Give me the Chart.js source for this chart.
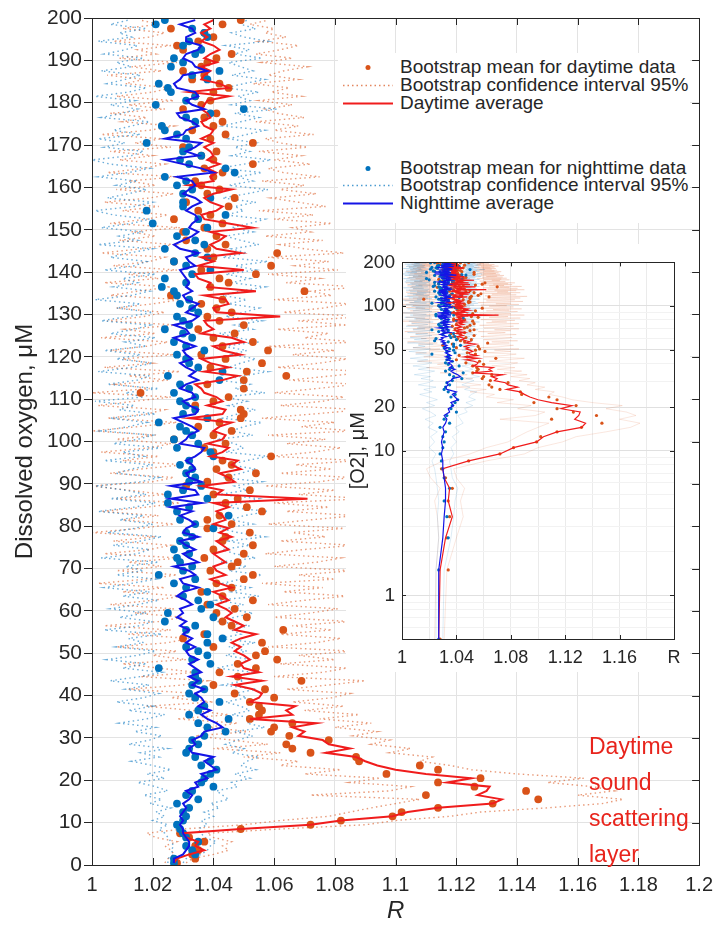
<!DOCTYPE html>
<html>
<head>
<meta charset="utf-8">
<script src="https://cdn.jsdelivr.net/npm/chart.js@4.4.0/dist/chart.umd.min.js"></script>
<style>
  body { margin: 0; background: #fff; }
  #wrap { position: relative; width: 721px; height: 933px; font-family: 'Liberation Sans', Arial, sans-serif; color: #262626; overflow: hidden; }
  #main { position: absolute; left: 0; top: 0; }
  #legend { position: absolute; left: 338px; top: 53px; width: 352px; height: 170px; background: #fff; font-size: 19px; }
  .row { position: absolute; left: 0; width: 352px; height: 18px; line-height: 18px; white-space: nowrap; }
  .row .txt { position: absolute; left: 62px; top: 0; }
  .row svg { position: absolute; left: 5px; top: 7px; }
  #insetBox { position: absolute; left: 346px; top: 244px; width: 344px; height: 428px; background: #fff; }
  #note { position: absolute; left: 589px; top: 728px; font-size: 23px; line-height: 36px; color: #e8241c; }
</style>
</head>
<body>
<div id="wrap">
  <canvas id="main" width="721" height="933"></canvas>
  <div id="legend">
    <div class="row" style="top:5px"><svg width="50" height="5"><circle cx="25" cy="2.5" r="2.5" fill="#D95319"/></svg><span class="txt">Bootstrap mean for daytime data</span></div>
    <div class="row" style="top:23px"><svg width="50" height="5"><line x1="0" y1="2.5" x2="50" y2="2.5" stroke="rgba(217,83,25,0.7)" stroke-width="1.4" stroke-dasharray="1.5 3"/></svg><span class="txt">Bootstrap confidence interval 95%</span></div>
    <div class="row" style="top:41px"><svg width="50" height="5"><line x1="0" y1="2.5" x2="50" y2="2.5" stroke="#f01c1c" stroke-width="2"/></svg><span class="txt">Daytime average</span></div>
    <div class="row" style="top:106px"><svg width="50" height="5"><circle cx="25" cy="2.5" r="2.5" fill="#0072BD"/></svg><span class="txt">Bootstrap mean for nighttime data</span></div>
    <div class="row" style="top:123px"><svg width="50" height="5"><line x1="0" y1="2.5" x2="50" y2="2.5" stroke="rgba(0,114,189,0.7)" stroke-width="1.4" stroke-dasharray="1.5 3"/></svg><span class="txt">Bootstrap confidence interval 95%</span></div>
    <div class="row" style="top:141px"><svg width="50" height="5"><line x1="0" y1="2.5" x2="50" y2="2.5" stroke="#1414e6" stroke-width="2"/></svg><span class="txt">Nighttime average</span></div>
  </div>
  <div id="note">Daytime<br>sound<br>scattering<br>layer</div>
  <div id="insetBox"><canvas id="inset" width="344" height="428"></canvas></div>
</div>
<script>
// O2 bins (bin centres, µM)
const levels = [
  0.5,1.5,2.5,3.5,4.5,5.5,6.5,7.5,8.5,9.5,
  10.5,11.5,12.5,13.5,14.5,15.5,16.5,17.5,18.5,19.5,
  20.5,21.5,22.5,23.5,24.5,25.5,26.5,27.5,28.5,29.5,
  30.5,31.5,32.5,33.5,34.5,35.5,36.5,37.5,38.5,39.5,
  40.5,41.5,42.5,43.5,44.5,45.5,46.5,47.5,48.5,49.5,
  50.5,51.5,52.5,53.5,54.5,55.5,56.5,57.5,58.5,59.5,
  60.5,61.5,62.5,63.5,64.5,65.5,66.5,67.5,68.5,69.5,
  70.5,71.5,72.5,73.5,74.5,75.5,76.5,77.5,78.5,79.5,
  80.5,81.5,82.5,83.5,84.5,85.5,86.5,87.5,88.5,89.5,
  90.5,91.5,92.5,93.5,94.5,95.5,96.5,97.5,98.5,99.5,
  100.5,101.5,102.5,103.5,104.5,105.5,106.5,107.5,108.5,109.5,
  110.5,111.5,112.5,113.5,114.5,115.5,116.5,117.5,118.5,119.5,
  120.5,121.5,122.5,123.5,124.5,125.5,126.5,127.5,128.5,129.5,
  130.5,131.5,132.5,133.5,134.5,135.5,136.5,137.5,138.5,139.5,
  140.5,141.5,142.5,143.5,144.5,145.5,146.5,147.5,148.5,149.5,
  150.5,151.5,152.5,153.5,154.5,155.5,156.5,157.5,158.5,159.5,
  160.5,161.5,162.5,163.5,164.5,165.5,166.5,167.5,168.5,169.5,
  170.5,171.5,172.5,173.5,174.5,175.5,176.5,177.5,178.5,179.5,
  180.5,181.5,182.5,183.5,184.5,185.5,186.5,187.5,188.5,189.5,
  190.5,191.5,192.5,193.5,194.5,195.5,196.5,197.5,198.5,199.5
];

// daytime average R
const dayAvg = [
  1.027,1.028,1.032,1.037,1.034,1.035,1.031,1.030,1.049,1.072,
  1.082,1.099,1.104,1.114,1.132,1.135,1.127,1.130,1.131,1.117,
  1.125,1.110,1.100,1.094,1.090,1.087,1.077,1.085,1.078,1.076,
  1.068,1.070,1.066,1.074,1.052,1.066,1.064,1.067,1.052,1.055,
  1.056,1.053,1.047,1.056,1.046,1.055,1.050,1.049,1.052,1.050,
  1.047,1.049,1.046,1.049,1.054,1.047,1.050,1.047,1.044,1.046,
  1.044,1.041,1.045,1.043,1.040,1.046,1.042,1.039,1.044,1.041,
  1.040,1.044,1.042,1.040,1.045,1.043,1.041,1.046,1.042,1.045,
  1.040,1.044,1.043,1.041,1.045,1.040,1.071,1.041,1.043,1.036,
  1.047,1.045,1.042,1.049,1.046,1.048,1.039,1.043,1.045,1.038,
  1.043,1.044,1.040,1.042,1.046,1.032,1.043,1.044,1.038,1.043,
  1.041,1.037,1.036,1.034,1.043,1.048,1.037,1.045,1.039,1.036,
  1.049,1.043,1.040,1.050,1.046,1.036,1.040,1.038,1.037,1.062,
  1.041,1.040,1.045,1.044,1.037,1.054,1.038,1.039,1.035,1.034,
  1.050,1.035,1.040,1.036,1.049,1.041,1.039,1.042,1.044,1.039,
  1.053,1.045,1.037,1.036,1.041,1.043,1.039,1.037,1.040,1.046,
  1.032,1.040,1.039,1.041,1.038,1.042,1.038,1.040,1.039,1.037,
  1.040,1.036,1.039,1.040,1.037,1.036,1.039,1.038,1.036,1.037,
  1.038,1.045,1.032,1.045,1.042,1.036,1.037,1.039,1.036,1.041,
  1.037,1.039,1.042,1.040,1.036,1.038,1.036,1.039,1.037,1.040
];

// nighttime average R
const nightAvg = [
  1.027,1.027,1.030,1.031,1.032,1.032,1.031,1.030,1.030,1.029,
  1.030,1.029,1.030,1.031,1.030,1.032,1.033,1.031,1.035,1.034,
  1.038,1.036,1.041,1.039,1.037,1.040,1.033,1.032,1.034,1.033,
  1.036,1.037,1.043,1.041,1.038,1.036,1.039,1.035,1.037,1.036,
  1.034,1.037,1.033,1.035,1.032,1.036,1.034,1.032,1.035,1.032,
  1.031,1.034,1.031,1.033,1.030,1.032,1.029,1.031,1.028,1.030,
  1.029,1.033,1.031,1.028,1.030,1.035,1.030,1.029,1.034,1.032,
  1.027,1.035,1.032,1.030,1.034,1.031,1.029,1.035,1.030,1.031,
  1.034,1.032,1.029,1.033,1.026,1.036,1.026,1.035,1.034,1.026,
  1.036,1.032,1.031,1.034,1.033,1.031,1.034,1.036,1.037,1.029,
  1.031,1.032,1.035,1.033,1.030,1.027,1.034,1.035,1.032,1.030,
  1.034,1.033,1.029,1.031,1.035,1.032,1.034,1.031,1.029,1.033,
  1.031,1.030,1.034,1.030,1.027,1.032,1.031,1.027,1.033,1.035,
  1.031,1.033,1.035,1.031,1.030,1.033,1.031,1.032,1.031,1.030,
  1.029,1.034,1.032,1.031,1.035,1.029,1.027,1.030,1.033,1.035,
  1.032,1.033,1.035,1.034,1.031,1.033,1.036,1.034,1.030,1.032,
  1.034,1.033,1.028,1.040,1.036,1.030,1.024,1.035,1.031,1.034,
  1.036,1.024,1.030,1.031,1.035,1.033,1.029,1.028,1.037,1.033,
  1.031,1.035,1.034,1.028,1.027,1.029,1.030,1.038,1.034,1.033,
  1.030,1.031,1.035,1.036,1.031,1.031,1.034,1.033,1.029,1.034
];

// bootstrap mean, daytime
const dayMean = [
  1.028,1.034,1.033,1.035,1.034,1.037,1.032,1.029,1.049,1.072,
  1.082,1.099,1.102,1.114,1.132,1.147,1.110,1.143,1.126,1.114,
  1.128,1.097,1.114,1.108,1.088,1.087,1.072,1.066,1.064,1.078,
  1.065,1.059,1.060,1.066,1.052,1.055,1.056,1.055,1.052,1.060,
  1.047,1.057,1.040,1.069,1.048,1.042,1.054,1.048,1.061,1.054,
  1.057,1.040,1.056,1.030,1.037,1.063,1.046,1.043,1.051,1.041,
  1.047,1.038,1.053,1.043,1.036,1.046,1.041,1.050,1.053,1.039,
  1.046,1.048,1.037,1.050,1.040,1.053,1.043,1.044,1.052,1.038,
  1.046,1.038,1.042,1.056,1.051,1.044,1.048,1.040,1.052,1.031,
  1.038,1.045,1.054,1.041,1.046,1.043,1.059,1.040,1.037,1.044,
  1.027,1.040,1.046,1.035,1.042,1.049,1.050,1.049,1.034,1.040,
  1.045,1.016,1.050,1.038,1.050,1.064,1.051,1.039,1.056,1.044,
  1.036,1.058,1.043,1.053,1.040,1.047,1.035,1.050,1.042,1.038,
  1.046,1.041,1.036,1.043,1.026,1.070,1.039,1.045,1.042,1.054,
  1.036,1.059,1.027,1.040,1.061,1.038,1.044,1.031,1.041,1.030,
  1.037,1.043,1.027,1.039,1.035,1.045,1.031,1.047,1.038,1.042,
  1.036,1.034,1.040,1.043,1.037,1.053,1.040,1.036,1.041,1.030,
  1.053,1.039,1.044,1.033,1.040,1.043,1.037,1.041,1.030,1.036,
  1.039,1.034,1.040,1.045,1.042,1.033,1.037,1.030,1.036,1.038,
  1.041,1.046,1.030,1.028,1.035,1.040,1.037,1.026,1.043,1.049
];

// bootstrap mean, nighttime
const nightMean = [
  1.027,1.027,1.034,1.033,1.031,1.035,1.031,1.030,1.029,1.028,
  1.030,1.031,1.030,1.032,1.028,1.035,1.031,1.033,1.040,1.036,
  1.037,1.039,1.041,1.036,1.039,1.034,1.031,1.032,1.035,1.033,
  1.037,1.044,1.038,1.035,1.045,1.032,1.035,1.037,1.042,1.034,
  1.032,1.037,1.033,1.035,1.034,1.034,1.022,1.039,1.033,1.038,
  1.035,1.031,1.038,1.043,1.038,1.031,1.034,1.024,1.040,1.025,
  1.036,1.039,1.035,1.030,1.038,1.031,1.027,1.034,1.022,1.030,
  1.033,1.029,1.028,1.032,1.027,1.031,1.029,1.033,1.031,1.040,
  1.034,1.029,1.045,1.028,1.032,1.025,1.038,1.025,1.030,1.036,
  1.032,1.034,1.031,1.033,1.029,1.032,1.040,1.039,1.028,1.035,
  1.027,1.033,1.031,1.029,1.022,1.038,1.030,1.034,1.031,1.029,
  1.034,1.027,1.032,1.029,1.042,1.025,1.043,1.035,1.032,1.031,
  1.028,1.037,1.031,1.027,1.033,1.030,1.024,1.032,1.030,1.028,
  1.035,1.033,1.029,1.032,1.028,1.027,1.023,1.031,1.024,1.033,
  1.039,1.031,1.027,1.038,1.034,1.024,1.037,1.034,1.028,1.031,
  1.038,1.020,1.035,1.044,1.018,1.030,1.030,1.039,1.030,1.033,
  1.028,1.031,1.024,1.047,1.044,1.032,1.029,1.036,1.030,1.032,
  1.018,1.031,1.028,1.024,1.023,1.034,1.031,1.039,1.050,1.021,
  1.031,1.034,1.026,1.025,1.022,1.038,1.033,1.042,1.026,1.030,
  1.027,1.034,1.036,1.030,1.032,1.038,1.037,1.033,1.021,1.024
];

// 95% bootstrap confidence bounds, daytime
const dayCiLo = [
  1.024,1.025,1.027,1.026,1.024,1.028,1.021,1.018,1.030,1.050,
  1.062,1.078,1.085,1.092,1.100,1.108,1.072,1.098,1.105,1.085,
  1.095,1.070,1.082,1.062,1.068,1.050,1.062,1.040,1.058,1.046,
  1.034,1.052,1.038,1.048,1.028,1.045,1.033,1.018,1.040,1.026,
  1.035,1.012,1.030,1.038,1.016,1.034,1.022,1.010,1.031,1.020,
  1.028,1.008,1.025,1.032,1.012,1.026,1.004,1.022,1.030,1.014,
  1.027,1.006,1.020,1.030,1.010,1.024,1.002,1.018,1.028,1.008,
  1.023,1.012,1.029,1.004,1.019,1.026,1.007,1.021,1.000,1.016,
  1.027,1.010,1.022,1.003,1.018,1.029,1.008,1.024,1.012,1.000,
  1.020,1.027,1.006,1.016,1.030,1.010,1.022,1.003,1.019,1.026,
  1.008,1.021,1.000,1.015,1.028,1.005,1.018,1.024,1.002,1.014,
  1.026,1.000,1.019,1.008,1.025,1.012,1.029,1.004,1.020,1.010,
  1.027,1.006,1.018,1.025,1.003,1.021,1.011,1.028,1.005,1.017,
  1.024,1.008,1.020,1.029,1.006,1.015,1.026,1.004,1.022,1.012,
  1.028,1.007,1.019,1.024,1.003,1.016,1.027,1.009,1.021,1.013,
  1.029,1.006,1.018,1.025,1.010,1.022,1.004,1.019,1.027,1.008,
  1.021,1.012,1.028,1.005,1.017,1.024,1.009,1.020,1.006,1.026,
  1.014,1.023,1.003,1.019,1.027,1.010,1.018,1.006,1.024,1.012,
  1.027,1.008,1.020,1.026,1.011,1.017,1.005,1.023,1.013,1.028,
  1.009,1.021,1.015,1.026,1.007,1.019,1.024,1.010,1.022,1.016
];
const dayCiHi = [
  1.031,1.033,1.040,1.045,1.043,1.046,1.040,1.038,1.062,1.090,
  1.100,1.118,1.128,1.150,1.168,1.175,1.160,1.172,1.165,1.150,
  1.162,1.140,1.125,1.118,1.108,1.112,1.098,1.105,1.092,1.098,
  1.086,1.094,1.080,1.092,1.075,1.088,1.070,1.083,1.066,1.079,
  1.085,1.064,1.078,1.090,1.060,1.076,1.084,1.062,1.080,1.068,
  1.086,1.058,1.074,1.082,1.062,1.079,1.066,1.085,1.060,1.072,
  1.081,1.058,1.070,1.084,1.063,1.076,1.056,1.080,1.068,1.086,
  1.060,1.074,1.082,1.057,1.070,1.086,1.062,1.077,1.066,1.083,
  1.058,1.072,1.087,1.064,1.078,1.060,1.090,1.068,1.080,1.057,
  1.075,1.085,1.062,1.079,1.067,1.088,1.059,1.073,1.082,1.064,
  1.077,1.058,1.086,1.069,1.080,1.056,1.073,1.089,1.062,1.076,
  1.083,1.060,1.074,1.087,1.065,1.079,1.092,1.061,1.075,1.084,
  1.066,1.080,1.058,1.087,1.070,1.078,1.061,1.084,1.068,1.090,
  1.063,1.076,1.085,1.060,1.079,1.072,1.088,1.064,1.075,1.058,
  1.081,1.067,1.078,1.058,1.083,1.070,1.062,1.076,1.057,1.072,
  1.066,1.079,1.060,1.073,1.055,1.077,1.068,1.059,1.074,1.062,
  1.070,1.056,1.075,1.063,1.058,1.072,1.060,1.069,1.055,1.071,
  1.062,1.057,1.073,1.060,1.068,1.054,1.070,1.061,1.057,1.066,
  1.055,1.069,1.059,1.065,1.053,1.068,1.058,1.063,1.071,1.056,
  1.066,1.054,1.062,1.068,1.055,1.064,1.057,1.060,1.052,1.058
];

// 95% bootstrap confidence bounds, nighttime
const nightCiLo = [
  1.025,1.025,1.027,1.026,1.027,1.026,1.025,1.024,1.022,1.025,
  1.020,1.024,1.021,1.026,1.019,1.023,1.017,1.025,1.021,1.015,
  1.024,1.018,1.026,1.020,1.013,1.022,1.016,1.025,1.012,1.019,
  1.023,1.014,1.021,1.009,1.018,1.024,1.012,1.020,1.008,1.017,
  1.022,1.011,1.019,1.006,1.016,1.023,1.010,1.018,1.005,1.015,
  1.021,1.008,1.017,1.012,1.023,1.004,1.016,1.020,1.009,1.018,
  1.006,1.015,1.022,1.010,1.019,1.004,1.013,1.021,1.008,1.017,
  1.011,1.022,1.003,1.015,1.019,1.007,1.016,1.023,1.005,1.014,
  1.020,1.009,1.017,1.002,1.014,1.021,1.006,1.018,1.011,1.001,
  1.016,1.022,1.008,1.013,1.020,1.004,1.017,1.010,1.023,1.007,
  1.015,1.020,1.003,1.012,1.018,1.006,1.021,1.009,1.014,1.001,
  1.017,1.011,1.022,1.005,1.015,1.019,1.002,1.013,1.020,1.008,
  1.016,1.004,1.018,1.011,1.021,1.006,1.014,1.019,1.003,1.012,
  1.020,1.008,1.016,1.001,1.013,1.019,1.007,1.015,1.010,1.021,
  1.004,1.014,1.018,1.006,1.012,1.020,1.002,1.015,1.009,1.017,
  1.003,1.013,1.019,1.007,1.001,1.014,1.020,1.005,1.012,1.018,
  1.008,1.015,1.002,1.012,1.019,1.006,1.000,1.013,1.017,1.004,
  1.011,1.002,1.016,1.007,1.013,1.019,1.003,1.010,1.015,1.006,
  1.014,1.001,1.012,1.018,1.005,1.011,1.016,1.003,1.013,1.008,
  1.017,1.004,1.011,1.015,1.002,1.013,1.009,1.018,1.006,1.012
];
const nightCiHi = [
  1.030,1.031,1.036,1.038,1.039,1.041,1.037,1.036,1.035,1.038,
  1.036,1.040,1.037,1.042,1.039,1.045,1.043,1.041,1.048,1.046,
  1.052,1.047,1.054,1.049,1.051,1.055,1.046,1.050,1.044,1.048,
  1.053,1.047,1.057,1.051,1.055,1.046,1.052,1.049,1.044,1.051,
  1.047,1.054,1.043,1.050,1.046,1.053,1.041,1.048,1.052,1.044,
  1.051,1.045,1.054,1.042,1.049,1.046,1.052,1.041,1.047,1.053,
  1.044,1.050,1.041,1.055,1.046,1.052,1.043,1.049,1.056,1.045,
  1.051,1.042,1.054,1.047,1.043,1.052,1.045,1.057,1.048,1.042,
  1.053,1.046,1.050,1.058,1.044,1.049,1.055,1.042,1.051,1.047,
  1.056,1.043,1.049,1.054,1.045,1.051,1.058,1.044,1.050,1.047,
  1.041,1.053,1.046,1.050,1.056,1.043,1.048,1.054,1.045,1.051,
  1.044,1.057,1.047,1.052,1.042,1.050,1.058,1.045,1.049,1.054,
  1.046,1.051,1.043,1.055,1.048,1.042,1.053,1.047,1.056,1.044,
  1.050,1.055,1.045,1.051,1.043,1.049,1.057,1.046,1.052,1.044,
  1.054,1.047,1.058,1.043,1.051,1.046,1.055,1.049,1.044,1.053,
  1.046,1.052,1.057,1.044,1.050,1.047,1.054,1.043,1.051,1.058,
  1.045,1.053,1.048,1.056,1.042,1.050,1.059,1.046,1.052,1.047,
  1.054,1.045,1.051,1.057,1.043,1.049,1.055,1.047,1.061,1.046,
  1.052,1.048,1.055,1.044,1.050,1.057,1.046,1.053,1.049,1.045,
  1.056,1.047,1.052,1.044,1.058,1.050,1.046,1.054,1.049,1.051
];

// axis ticks
const mainXTicks = [1, 1.02, 1.04, 1.06, 1.08, 1.1, 1.12, 1.14, 1.16, 1.18, 1.2];
const mainYTicks = [0, 10, 20, 30, 40, 50, 60, 70, 80, 90, 100, 110, 120, 130, 140, 150, 160, 170, 180, 190, 200];
const insetXTicks = [1, 1.02, 1.04, 1.06, 1.08, 1.1, 1.12, 1.14, 1.16, 1.18, 1.2];
const insetXLabelTicks = [1, 1.04, 1.08, 1.12, 1.16];
const insetYTicks = [0.5, 0.6, 0.7, 0.8, 0.9, 1, 2, 3, 4, 5, 6, 7, 8, 9, 10, 20, 30, 40, 50, 60, 70, 80, 90, 100, 200];
const insetYLabelTicks = [1, 10, 20, 50, 100, 200];

const FONT = "'Liberation Sans', Arial, Helvetica, sans-serif";
const INK = '#262626';
const DAY_DOT = '#D95319';
const NIGHT_DOT = '#0072BD';
const DAY_LINE = '#f01c1c';
const NIGHT_LINE = '#1414e6';

function pts(xs, ys) {
  return ys.map((y, i) => ({ x: xs[i], y: y }));
}

// box round the axes with inward ticks (MATLAB look)
const boxPlugin = {
  id: 'box',
  afterDraw(chart, args, o) {
    const { ctx, chartArea: a } = chart;
    const xs = chart.scales.x, ys = chart.scales.y;
    ctx.save();
    ctx.strokeStyle = INK;
    ctx.lineWidth = 1;
    ctx.beginPath();
    (o.xMarks || []).forEach(v => {
      const px = Math.round(xs.getPixelForValue(v)) + 0.5;
      ctx.moveTo(px, a.bottom); ctx.lineTo(px, a.bottom - o.len);
      ctx.moveTo(px, a.top); ctx.lineTo(px, a.top + o.len);
    });
    (o.yMarks || []).forEach(v => {
      const py = Math.round(ys.getPixelForValue(v)) + 0.5;
      ctx.moveTo(a.right, py); ctx.lineTo(a.right - o.len, py);
      if (o.leftIn) { ctx.moveTo(a.left, py); ctx.lineTo(a.left + o.len, py); }
    });
    ctx.stroke();
    ctx.strokeRect(Math.round(a.left) + 0.5, Math.round(a.top) + 0.5,
      Math.round(a.right - a.left), Math.round(a.bottom - a.top));
    ctx.restore();
  }
};

function ciSet(xs, color, big) {
  return {
    data: pts(xs, levels), showLine: true, pointRadius: 0,
    borderColor: big ? 'rgba(' + color + ',0.58)' : 'rgba(' + color + ',0.2)',
    borderWidth: big ? 1.4 : 0.7,
    borderDash: big ? [1.5, 3.2] : []
  };
}

function makeSets(big) {
  return [
    { data: pts(nightAvg, levels), showLine: true, borderColor: NIGHT_LINE, borderWidth: big ? 2 : 1.2, pointRadius: 0 },
    { data: pts(dayAvg, levels), showLine: true, borderColor: DAY_LINE, borderWidth: big ? 2 : 1.2, pointRadius: 0 },
    { data: pts(nightMean, levels), backgroundColor: NIGHT_DOT, pointRadius: big ? 3.9 : 1.6, pointBorderWidth: 0 },
    { data: pts(dayMean, levels), backgroundColor: DAY_DOT, pointRadius: big ? 3.9 : 1.6, pointBorderWidth: 0 },
    ciSet(nightCiLo, '0,114,189', big),
    ciSet(nightCiHi, '0,114,189', big),
    ciSet(dayCiLo, '217,83,25', big),
    ciSet(dayCiHi, '217,83,25', big)
  ];
}

// main chart
new Chart(document.getElementById('main'), {
  type: 'scatter',
  data: { datasets: makeSets(true) },
  options: {
    responsive: false,
    animation: false,
    events: [],
    layout: { padding: { top: 18, right: 16, left: 0, bottom: 0 } },
    plugins: {
      legend: { display: false },
      tooltip: { enabled: false },
      box: { len: 7, xMarks: mainXTicks, yMarks: mainYTicks }
    },
    scales: {
      x: {
        type: 'linear', min: 1, max: 1.2,
        afterBuildTicks: s => { s.ticks = mainXTicks.map(v => ({ value: v })); },
        afterFit: s => { s.height = 68; },
        grid: { color: '#e3e3e3', drawTicks: false },
        border: { color: INK },
        ticks: { padding: 8, color: INK, autoSkip: false, maxRotation: 0, font: { family: FONT, size: 20 }, callback: v => String(v) },
        title: { display: true, text: 'R', color: INK, font: { family: FONT, size: 24, style: 'italic' }, padding: { top: 0, bottom: 7 } }
      },
      y: {
        type: 'linear', min: 0, max: 200,
        afterBuildTicks: s => { s.ticks = mainYTicks.map(v => ({ value: v })); },
        afterFit: s => { s.width = 92; },
        grid: { color: '#e3e3e3', tickColor: INK, tickLength: 8 },
        border: { color: INK },
        ticks: { padding: 2, color: INK, font: { family: FONT, size: 21 }, callback: v => String(v) },
        title: { display: true, text: 'Dissolved oxygen, μM', color: INK, font: { family: FONT, size: 24 }, padding: { top: 11, bottom: 0 } }
      }
    }
  },
  plugins: [boxPlugin]
});

// inset: same data on a log O2 axis
new Chart(document.getElementById('inset'), {
  type: 'scatter',
  data: { datasets: makeSets(false) },
  options: {
    responsive: false,
    animation: false,
    events: [],
    layout: { padding: { top: 17, right: 16, left: 0, bottom: 0 } },
    plugins: {
      legend: { display: false },
      tooltip: { enabled: false },
      box: { len: 4, xMarks: insetXLabelTicks, yMarks: insetYLabelTicks, leftIn: true }
    },
    scales: {
      x: {
        type: 'linear', min: 1, max: 1.2,
        afterBuildTicks: s => { s.ticks = insetXTicks.map(v => ({ value: v })); },
        afterFit: s => { s.height = 33; },
        grid: { color: '#ebebeb', drawTicks: false },
        border: { color: INK },
        ticks: {
          padding: 8, color: INK, autoSkip: false, maxRotation: 0, font: { family: FONT, size: 18 },
          callback: v => insetXLabelTicks.includes(v) ? String(v) : (v === 1.2 ? 'R' : '')
        }
      },
      y: {
        type: 'logarithmic', min: 0.5, max: 200,
        afterBuildTicks: s => { s.ticks = insetYTicks.map(v => ({ value: v })); },
        afterFit: s => { s.width = 56; },
        grid: { color: c => insetYLabelTicks.includes(c.tick && c.tick.value) ? '#e0e0e0' : '#f2f2f2', drawTicks: false },
        border: { color: INK },
        ticks: { padding: 7, color: INK, autoSkip: false, font: { family: FONT, size: 19 }, callback: v => insetYLabelTicks.includes(v) ? String(v) : '' },
        title: { display: true, text: '[O2], μM', color: INK, font: { family: FONT, size: 20 }, padding: { top: 0, bottom: 0 } }
      }
    }
  },
  plugins: [boxPlugin]
});
</script>
</body>
</html>
